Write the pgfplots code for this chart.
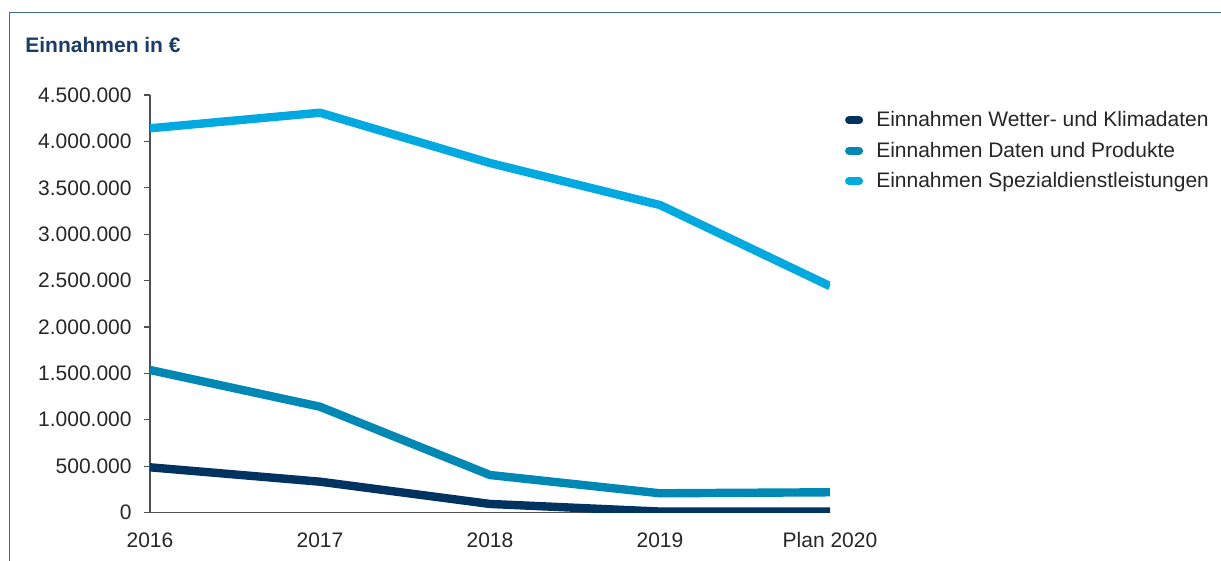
\documentclass[border=0pt]{standalone}
\usepackage{pgfplots}
\pgfplotsset{compat=1.18}
\usepackage{fontspec}
\setmainfont{Liberation Sans}
\definecolor{navy}{HTML}{00335F}
\definecolor{midblue}{HTML}{0088B4}
\definecolor{lightblue}{HTML}{00A9E0}
\definecolor{titleblue}{HTML}{1B3C6B}
\definecolor{frame}{HTML}{3A6A95}
\definecolor{axgray}{HTML}{505050}
\begin{document}
\begin{tikzpicture}
\useasboundingbox (0,0) rectangle (610.5pt,280.5pt);
\draw[frame, line width=0.8pt] (4.7pt,0) -- (4.7pt,274.3pt) -- (610.5pt,274.3pt);
\node[anchor=base west, inner sep=0pt, text=titleblue, font=\fontsize{10.5}{12}\selectfont\bfseries] at (12.5pt,254pt) {Einnahmen in €};
\begin{axis}[
  at={(75pt,24.25pt)}, anchor=south west,
  scale only axis, width=340pt, height=208.75pt,
  xmin=0, xmax=4, ymin=0, ymax=4500000,
  axis x line=bottom, axis y line=left,
  axis line style={axgray, line width=0.6pt, -},
  xtick={0,1,2,3,4},
  xticklabels={2016,2017,2018,2019,Plan 2020},
  xtick style={draw=none},
  ytick={0,500000,1000000,1500000,2000000,2500000,3000000,3500000,4000000,4500000},
  ytick style={axgray, line width=0.6pt},
  tick align=outside, major tick length=3pt,
  scaled y ticks=false,
  /pgf/number format/fixed,
  /pgf/number format/1000 sep={.},
  /pgf/number format/assume math mode=true,
  yticklabel style={anchor=east, inner sep=0pt, xshift=-6pt},
  xticklabel style={anchor=base, inner sep=0pt, yshift=-14.5pt},
  ticklabel style={font=\fontsize{10.5}{12}\selectfont, text=black!85},
  legend cell align=left,
  legend style={draw=none, fill=none, inner sep=0pt, outer sep=0pt,
    at={(1.016,0.9606)}, anchor=north west, row sep=7.6pt, column sep=0pt,
    font=\fontsize{10.5}{12}\selectfont,
    nodes={inner sep=0pt, text height=7.6pt, text depth=0pt, text=black!85}},
  legend image code/.code={\draw[#1, line width=4pt, line cap=round] (2pt,-0.6pt) -- (7pt,-0.6pt); \path (0,0) (13.5pt,0);},
  clip=true,
]
\addplot[navy, line width=4.2pt, line join=round] coordinates {(0,487000) (1,332000) (2,92000) (3,10000) (4,10000)};
\addlegendentry{Einnahmen Wetter- und Klimadaten}
\addplot[midblue, line width=4.2pt, line join=round] coordinates {(0,1536000) (1,1140000) (2,404000) (3,207000) (4,218000)};
\addlegendentry{Einnahmen Daten und Produkte}
\addplot[lightblue, line width=4.2pt, line join=round] coordinates {(0,4141000) (1,4309000) (2,3767000) (3,3314000) (4,2440000)};
\addlegendentry{Einnahmen Spezialdienstleistungen}
\end{axis}
\end{tikzpicture}
\end{document}
